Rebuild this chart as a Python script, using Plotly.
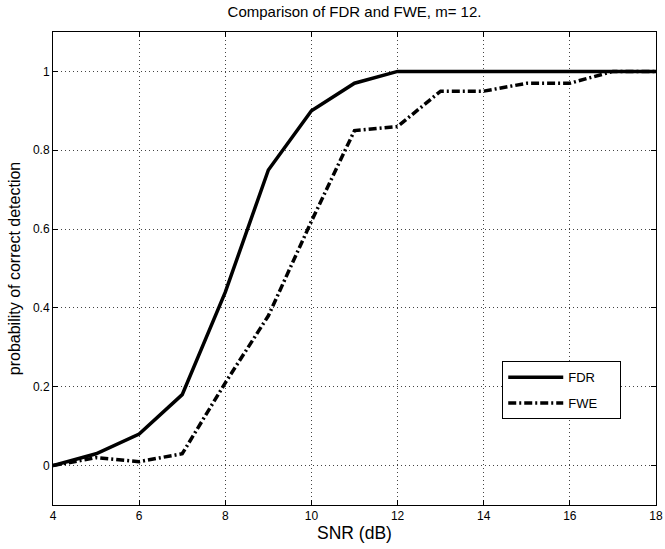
import plotly.graph_objects as go

snr = [4, 5, 6, 7, 8, 9, 10, 11, 12, 13, 14, 15, 16, 17, 18]
fdr = [0.0, 0.03, 0.08, 0.18, 0.44, 0.75, 0.90, 0.97, 1.0, 1.0, 1.0, 1.0, 1.0, 1.0, 1.0]
fwe = [0.0, 0.02, 0.01, 0.03, 0.21, 0.38, 0.62, 0.85, 0.86, 0.95, 0.95, 0.97, 0.97, 1.0, 1.0]
series_names = ["FDR", "FWE"]

x_ticks = [4, 6, 8, 10, 12, 14, 16, 18]
y_ticks = [0, 0.2, 0.4, 0.6, 0.8, 1]
y_tick_labels = ["0", "0.2", "0.4", "0.6", "0.8", "1"]

font_family = "Liberation Sans, Arial, sans-serif"
pad = "&nbsp;" * 5

fig = go.Figure()
fig.add_trace(go.Scatter(x=snr, y=fdr, mode="lines", name=series_names[0] + pad,
                         legendgroup="a",
                         line=dict(color="black", width=3.5)))
fig.add_trace(go.Scatter(x=snr, y=fwe, mode="lines", name=series_names[1] + pad,
                         legendgroup="b",
                         line=dict(color="black", width=3.5, dash="8px,3px,2px,3px")))

axis_common = dict(
    showline=True, linecolor="black", linewidth=1, mirror="ticks",
    ticks="inside", ticklen=5, tickcolor="black",
    showgrid=True, gridcolor="#444444", gridwidth=1, griddash="1px,3px",
    zeroline=False, automargin=False,
    tickfont=dict(family=font_family, size=12, color="black"),
)

fig.update_xaxes(range=[4, 18], tickvals=x_ticks,
                 title=dict(text="SNR (dB)", font=dict(family=font_family, size=17.5, color="black"),
                            standoff=4),
                 **axis_common)
fig.update_yaxes(range=[-0.1, 1.1], tickvals=y_ticks, ticktext=y_tick_labels,
                 title=dict(text="probability of correct detection",
                            font=dict(family=font_family, size=16, color="black"),
                            standoff=8),
                 **axis_common)

fig.update_layout(
    width=665, height=549,
    margin=dict(l=53, r=9, t=32, b=44, autoexpand=False),
    paper_bgcolor="white", plot_bgcolor="white",
    title=dict(text="Comparison of FDR and FWE, m= 12.",
               font=dict(family=font_family, size=15, color="black"),
               x=0.5, xref="paper", xanchor="center", y=0.978, yanchor="middle"),
    legend=dict(x=0.745, y=0.304, xanchor="left", yanchor="top",
                bgcolor="white", bordercolor="black", borderwidth=1,
                font=dict(family=font_family, size=13, color="black"),
                itemwidth=55, tracegroupgap=6, traceorder="grouped"),
    showlegend=True,
)

fig.write_html("out.html", config={"displayModeBar": False},
               post_script="document.body.style.margin='0';")
